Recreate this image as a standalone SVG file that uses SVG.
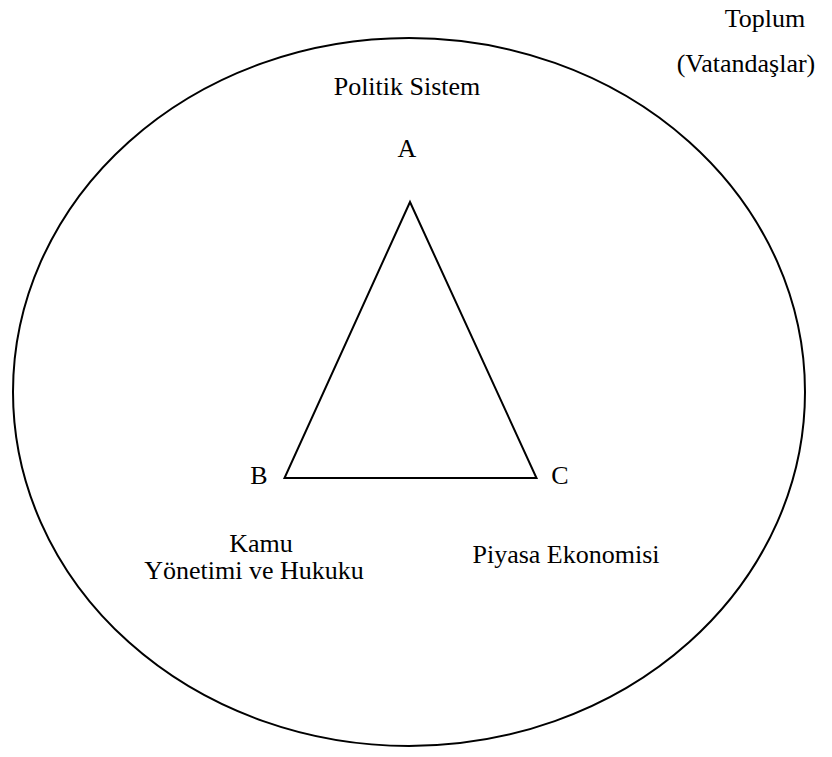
<svg xmlns="http://www.w3.org/2000/svg" width="832" height="757" viewBox="0 0 832 757">
<style>
text{font-family:"Times New Roman","Liberation Serif","DejaVu Serif",serif;font-size:26px;fill:#000;text-anchor:middle}
.s{fill:none;stroke:#000;stroke-width:2}
</style>
<rect width="832" height="757" fill="#fff"/>
<g id="toplum">
<ellipse class="s" cx="409" cy="392" rx="396" ry="354"/>
<text x="765" y="27">Toplum</text>
<text x="746" y="72">(Vatandaşlar)</text>
</g>
<g id="politik"><text x="407" y="95">Politik Sistem</text></g>
<g id="connectors">
<polygon class="s" points="410,202 284.5,478 536.5,478" stroke-linejoin="miter"/>
</g>
<g id="A"><text x="407" y="157">A</text></g>
<g id="B"><text x="259" y="484">B</text></g>
<g id="C"><text x="560" y="484">C</text></g>
<g id="kamu"><text x="261" y="552">Kamu</text><text x="254" y="579" font-size="25px">Yönetimi ve Hukuku</text></g>
<g id="piyasa"><text x="566" y="563">Piyasa Ekonomisi</text></g>
</svg>
